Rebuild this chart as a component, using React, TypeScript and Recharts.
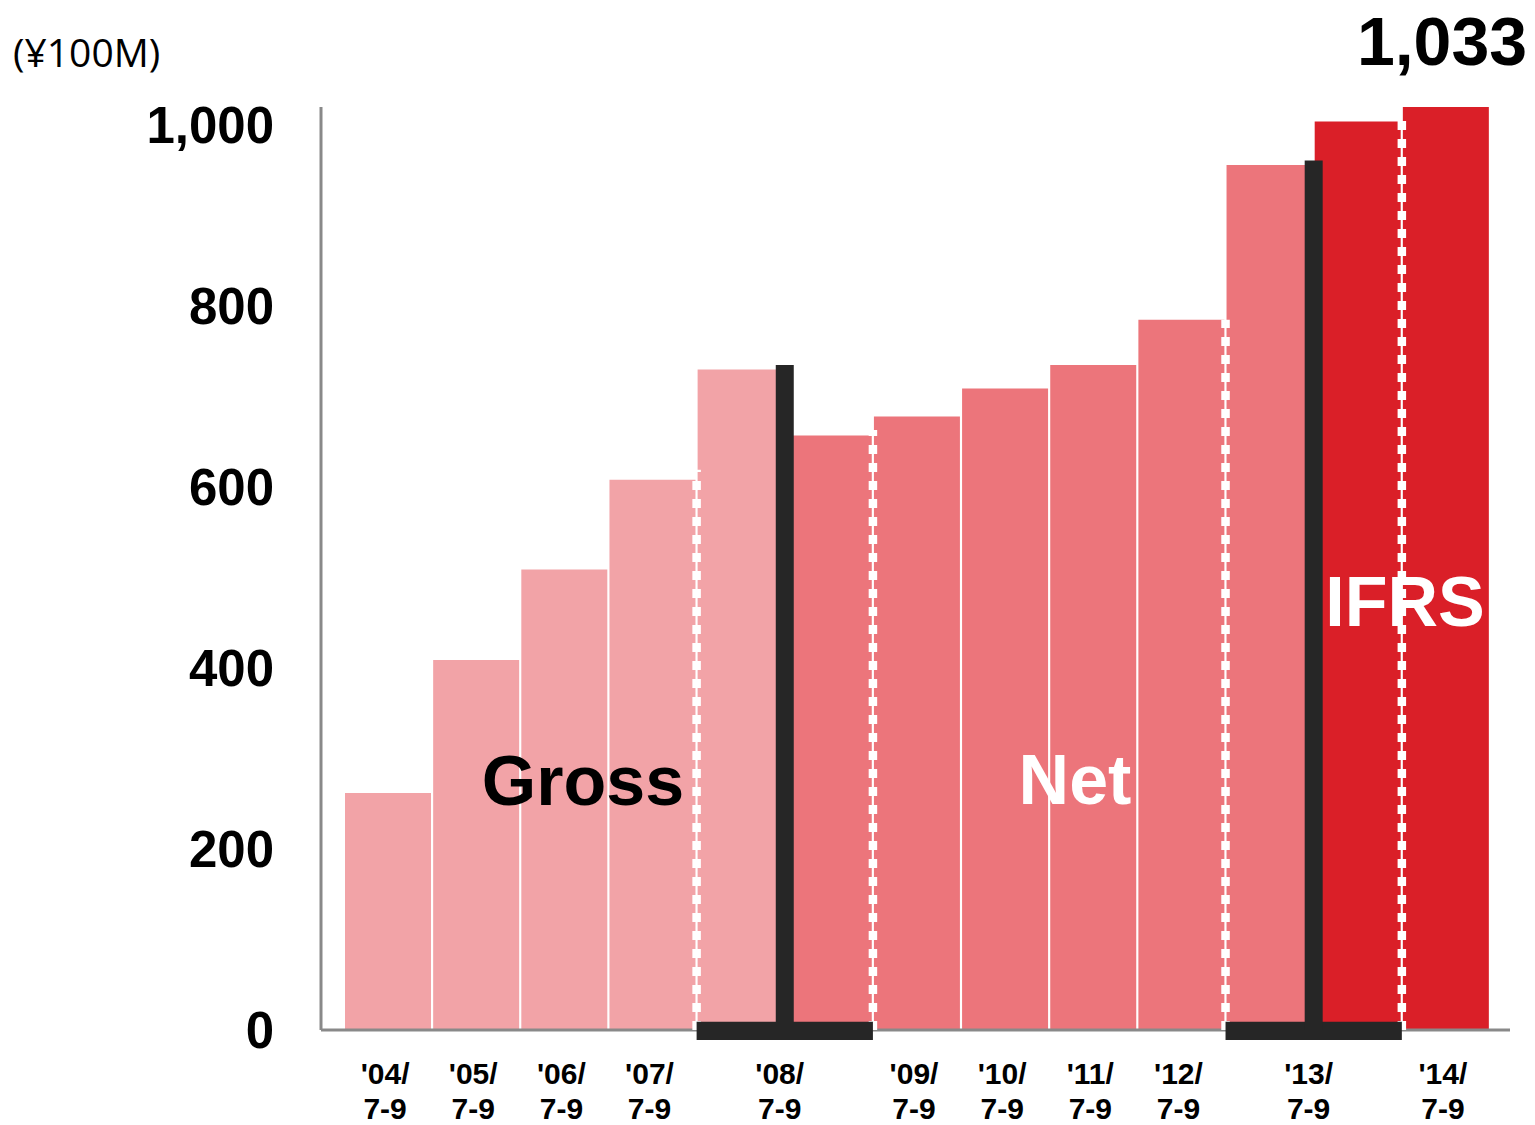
import { BarChart, Bar, XAxis, YAxis, Cell, ReferenceLine, ReferenceArea } from "recharts"

// quarterly revenue, Jul–Sep, in ¥100M
const periods = ["'04", "'05", "'06", "'07", "'08", "'08", "'09", "'10", "'11", "'12", "'13", "'13", "'14"]
const quarters = ["7-9", "7-9", "7-9", "7-9", "7-9", "7-9", "7-9", "7-9", "7-9", "7-9", "7-9", "7-9", "7-9"]
const bases = ["gross", "gross", "gross", "gross", "gross", "net", "net", "net", "net", "net", "net", "ifrs", "ifrs"]
const revenue = [262, 409, 509, 608, 730, 657, 678, 709, 735, 785, 956, 1004, 1033]
const yTicks = [0, 200, 400, 600, 800, 1000]

// where the accounting basis changes (bar id, height of the marker)
const basisChanges = [
  { id: "'08net", top: 735 },
  { id: "'13ifrs", top: 961 },
]
const dividers = [
  { id: "'08gross", top: 619 },
  { id: "'09net", top: 663 },
  { id: "'13net", top: 785 },
  { id: "'14ifrs", top: 1005 },
]

const colors: Record<string, string> = {
  gross: "#F2A3A7",
  net: "#EC757B",
  ifrs: "#DA1F28",
}

const data = periods.map((p, i) => ({
  id: p + bases[i],
  period: p,
  basis: bases[i],
  revenue: revenue[i],
}))

const FONT = "'Liberation Sans', Arial, sans-serif"
const DARK = "#262626"

function PeriodTick(props: any) {
  const { x, y, payload } = props
  const i = payload.index
  const p = periods[i]
  if (i > 0 && periods[i - 1] === p) return <g />
  const dx = periods[i + 1] === p ? 42 : 0
  return (
    <g>
      <text x={x + dx - 3} y={y + 54} textAnchor="middle" fontSize={30} fontWeight={700} fontFamily={FONT} fill="#000">
        {p}/
      </text>
      <text x={x + dx - 3} y={y + 89} textAnchor="middle" fontSize={30} fontWeight={700} fontFamily={FONT} fill="#000">
        {quarters[i]}
      </text>
    </g>
  )
}

export default function App() {
  const last = data[data.length - 1]
  return (
    <div style={{ position: "absolute", left: 0, top: 0, width: 1535, height: 1125, background: "#fff" }}>
      <BarChart
        width={1535}
        height={1125}
        data={data}
        margin={{ top: 107, right: 25, bottom: 0, left: 0 }}
        barCategoryGap={1}
      >
        <XAxis
          dataKey="id"
          interval={0}
          tickLine={false}
          tickSize={0}
          tickMargin={0}
          height={95}
          padding={{ left: 23, right: 20 }}
          axisLine={{ stroke: "#898989", strokeWidth: 3 }}
          tick={<PeriodTick />}
        />
        <YAxis
          width={321}
          domain={[0, 1020]}
          allowDataOverflow
          ticks={yTicks}
          tickLine={false}
          tickSize={0}
          tickMargin={47}
          tickFormatter={(v: number) => v.toLocaleString("en-US")}
          axisLine={{ stroke: "#898989", strokeWidth: 3 }}
          tick={{ fontSize: 51, fontWeight: 700, fill: "#000", fontFamily: FONT }}
        />
        <Bar dataKey="revenue" isAnimationActive={false}>
          {data.map((d) => (
            <Cell key={d.id} fill={colors[d.basis]} />
          ))}
        </Bar>
        {dividers.map((d) => (
          <ReferenceLine
            key={d.id}
            segment={[
              { x: d.id, y: 0 },
              { x: d.id, y: d.top },
            ]}
            position="start"
            stroke="#fff"
            strokeWidth={8.5}
            strokeDasharray="9 9"
            zIndex={700}
          />
        ))}
        {basisChanges.map((b) => (
          <ReferenceArea
            key={"base" + b.id}
            x1={data[data.findIndex((d) => d.id === b.id) - 1].id}
            x2={b.id}
            y1={-11}
            y2={9}
            fill={DARK}
            fillOpacity={1}
            stroke="none"
            ifOverflow="visible"
            zIndex={800}
          />
        ))}
        {basisChanges.map((b) => (
          <ReferenceLine
            key={"bar" + b.id}
            segment={[
              { x: b.id, y: 0 },
              { x: b.id, y: b.top },
            ]}
            position="start"
            stroke={DARK}
            strokeWidth={18}
            zIndex={800}
          />
        ))}
      </BarChart>
      <svg
        width={1535}
        height={1125}
        style={{ position: "absolute", left: 0, top: 0, pointerEvents: "none" }}
      >
        <text x={13} y={67} fontSize={39} fontFamily="'Open Sans', sans-serif" fill="#000">
          (¥100M)
        </text>
        <text x={1442} y={65} textAnchor="middle" fontSize={68} fontWeight={700} fontFamily={FONT} fill="#000">
          {last.revenue.toLocaleString("en-US")}
        </text>
        <text x={583} y={805} textAnchor="middle" fontSize={70} fontWeight={700} fontFamily={FONT} fill="#000">
          Gross
        </text>
        <text x={1075} y={804} textAnchor="middle" fontSize={70} fontWeight={700} fontFamily={FONT} fill="#fff">
          Net
        </text>
        <text x={1405} y={626} textAnchor="middle" fontSize={70} fontWeight={700} fontFamily={FONT} fill="#fff">
          IFRS
        </text>
      </svg>
    </div>
  )
}
